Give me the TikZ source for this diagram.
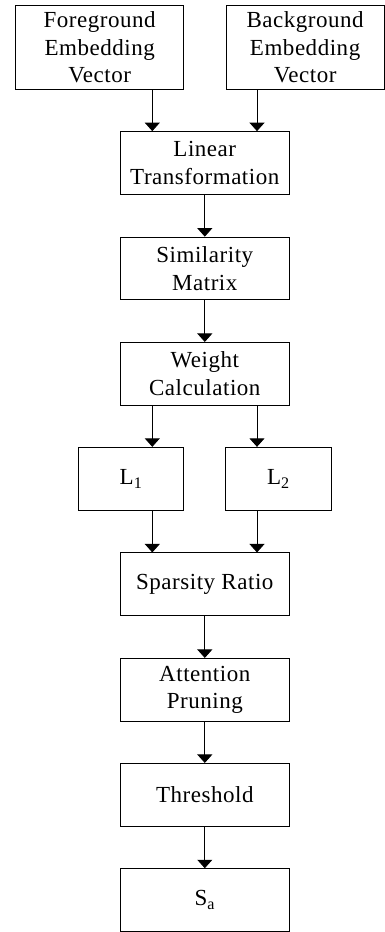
\documentclass[tikz,border=0pt]{standalone}
\usepackage{fontspec}
\setmainfont{Liberation Serif}
\usetikzlibrary{arrows.meta}
\begin{document}
\begin{tikzpicture}[x=1pt,y=-1pt,
  box/.style={draw=black, line width=0.9pt, inner sep=0pt, align=center,
    font={\fontsize{23}{27.5}\selectfont\addfontfeature{LetterSpace=2.3}}},
  wide/.style={box, minimum width=168.3pt, minimum height=62.8pt},
  narrow/.style={box, minimum width=105.3pt, minimum height=63.4pt},
  arr/.style={draw=black, line width=0.9pt, -{Triangle[width=15pt,length=8.5pt]}}]
\useasboundingbox (0,0) rectangle (385,932);
\node[box, minimum width=168pt, minimum height=84.3pt] (fg) at (99.7,47.2) {Foreground\\Embedding\\Vector};
\node[box, minimum width=158.3pt, minimum height=84.3pt] (bg) at (305.1,47.2) {Background\\Embedding\\Vector};
\node[wide] (lin) at (204.8,163) {Linear\\Transformation};
\node[wide] (sim) at (204.8,268.5) {Similarity\\Matrix};
\node[wide] (wt) at (204.8,373.8) {Weight\\Calculation};
\node[narrow] (l1) at (131,479) {L\textsubscript{1}};
\node[narrow] (l2) at (278.3,479) {L\textsubscript{2}};
\node[wide] (sp) at (204.8,584.3) {Sparsity Ratio};
\node[wide] (att) at (204.8,689.8) {Attention\\Pruning};
\node[wide] (th) at (204.8,794.8) {Threshold};
\node[wide] (sa) at (204.8,900.1) {S\textsubscript{a}};
\coordinate (cl) at (152.3,0);
\coordinate (cr) at (257,0);
\draw[arr] (fg.south -| cl) -- (lin.north -| cl);
\draw[arr] (bg.south -| cr) -- (lin.north -| cr);
\draw[arr] (lin) -- (sim);
\draw[arr] (sim) -- (wt);
\draw[arr] (wt.south -| cl) -- (l1.north -| cl);
\draw[arr] (wt.south -| cr) -- (l2.north -| cr);
\draw[arr] (l1.south -| cl) -- (sp.north -| cl);
\draw[arr] (l2.south -| cr) -- (sp.north -| cr);
\draw[arr] (sp) -- (att);
\draw[arr] (att) -- (th);
\draw[arr] (th) -- (sa);
\end{tikzpicture}
\end{document}
